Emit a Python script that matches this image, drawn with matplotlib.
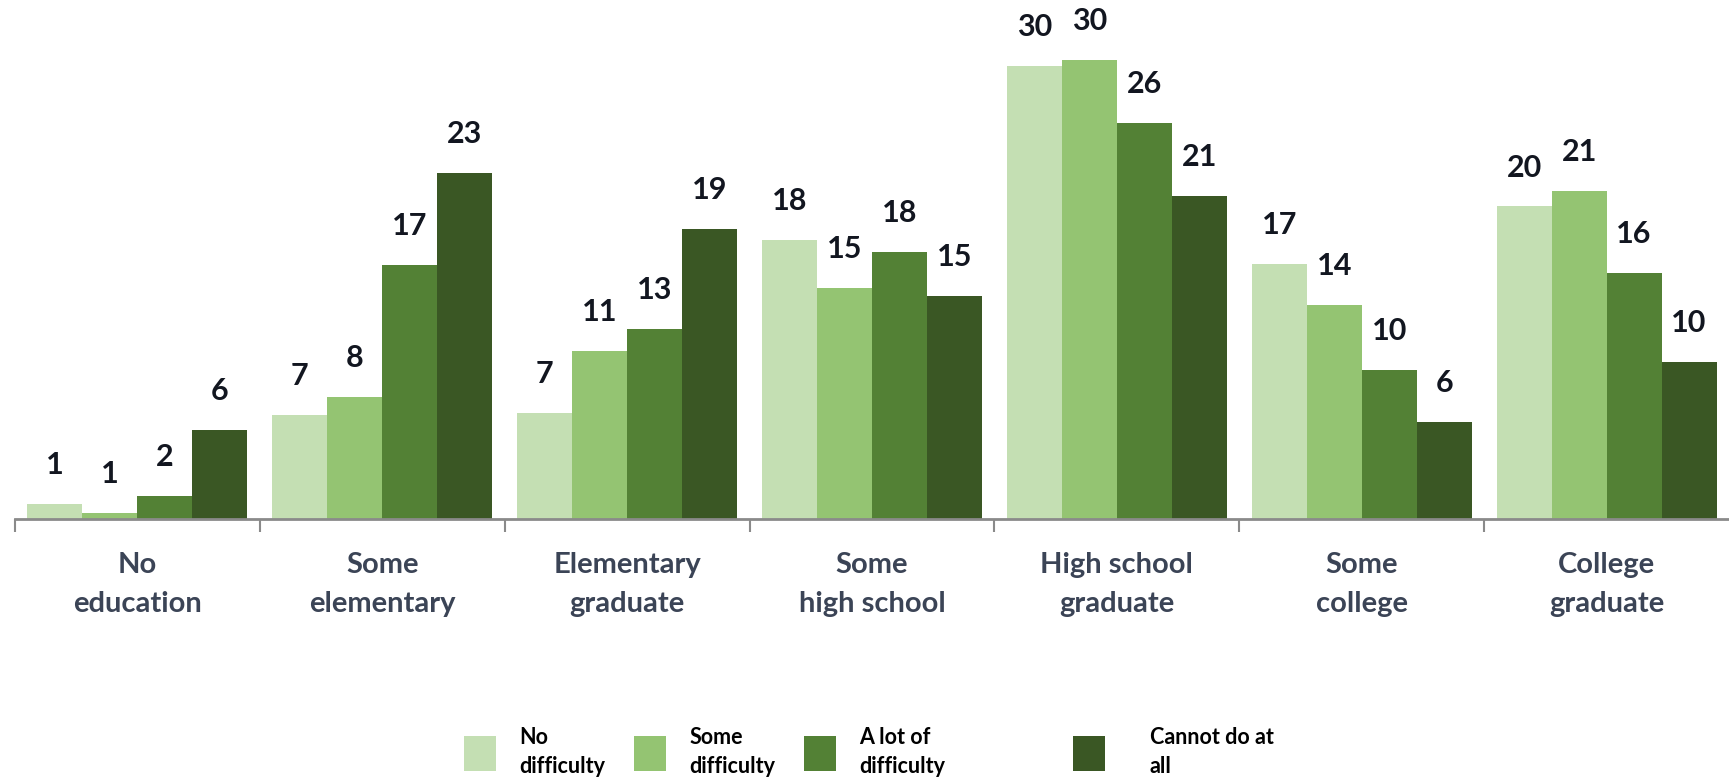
import numpy as np
import matplotlib
matplotlib.use("Agg")
import matplotlib.pyplot as plt
from matplotlib.patches import Patch

# categorias (nível de escolaridade)
categorias = ["No\neducation", "Some\nelementary", "Elementary\ngraduate",
              "Some\nhigh school", "High school\ngraduate", "Some\ncollege",
              "College\ngraduate"]

series = ["No\ndifficulty", "Some\ndifficulty", "A lot of\ndifficulty", "Cannot do at\nall"]

# alturas das barras
no_difficulty = [1.0, 6.9, 7.0, 18.5, 30.0, 16.9, 20.7]
some_difficulty = [0.4, 8.1, 11.1, 15.3, 30.4, 14.2, 21.7]
lot_difficulty = [1.5, 16.8, 12.6, 17.7, 26.2, 9.9, 16.3]
cannot_do = [5.9, 22.9, 19.2, 14.8, 21.4, 6.4, 10.4]

# rótulos impressos acima das barras
rot_no = [1, 7, 7, 18, 30, 17, 20]
rot_some = [1, 8, 11, 15, 30, 14, 21]
rot_lot = [2, 17, 13, 18, 26, 10, 16]
rot_cannot = [6, 23, 19, 15, 21, 6, 10]

cores = ["#C4DFB3", "#94C472", "#538135", "#3A5724"]

valores = [no_difficulty, some_difficulty, lot_difficulty, cannot_do]
rotulos = [rot_no, rot_some, rot_lot, rot_cannot]

plt.rcParams['font.family'] = ['Lato', 'DejaVu Sans']

fig = plt.figure(figsize=(17.29, 7.82), dpi=100)
ax = fig.add_axes([15 / 1729, 263 / 782, 1714 / 1729, 519 / 782])

x = np.arange(len(categorias))
w = 0.2245
for i in range(4):
    pos = x + (i - 1.5) * w
    ax.bar(pos, valores[i], width=w, color=cores[i], edgecolor='none')
    for xi, yi, r in zip(pos, valores[i], rotulos[i]):
        ax.annotate(str(r), (xi, yi), xytext=(0, 28), textcoords='offset points',
                    ha='center', va='center', fontsize=22, fontweight='bold',
                    color='#121620')

ax.set_xlim(-0.5, 6.5)
ax.set_ylim(0, 34.37)

for s in ['top', 'right', 'left']:
    ax.spines[s].set_visible(False)
ax.spines['bottom'].set_color('#8a8a8a')
ax.spines['bottom'].set_linewidth(2)
ax.set_yticks([])

ax.set_xticks(np.arange(-0.5, 6.0, 1.0))
ax.set_xticklabels([])
ax.tick_params(axis='x', which='major', direction='out', length=9, width=1.5, color='#8a8a8a')
ax.set_xticks(x, minor=True)
ax.set_xticklabels(categorias, minor=True, fontsize=21, fontweight='bold',
                   color='#3B4456', linespacing=1.6)
ax.tick_params(axis='x', which='minor', length=0, pad=24)

# legenda com posições individuais
leg_x = [445 / 1729, 615 / 1729, 785 / 1729, 1054 / 1729]
pads = [1.1, 1.1, 1.1, 2.1]
for i in range(4):
    h = Patch(facecolor=cores[i], edgecolor='none')
    leg = fig.legend(handles=[h], labels=[series[i]], loc='center left',
                     bbox_to_anchor=(leg_x[i], 1 - 752 / 782), frameon=False,
                     handlelength=1.45, handleheight=2.1, handletextpad=pads[i],
                     prop={'family': ['Lato', 'DejaVu Sans'], 'weight': 'bold', 'size': 15.5})
    for t in leg.get_texts():
        t.set_linespacing(1.45)

fig.savefig("out.png", dpi=100)
